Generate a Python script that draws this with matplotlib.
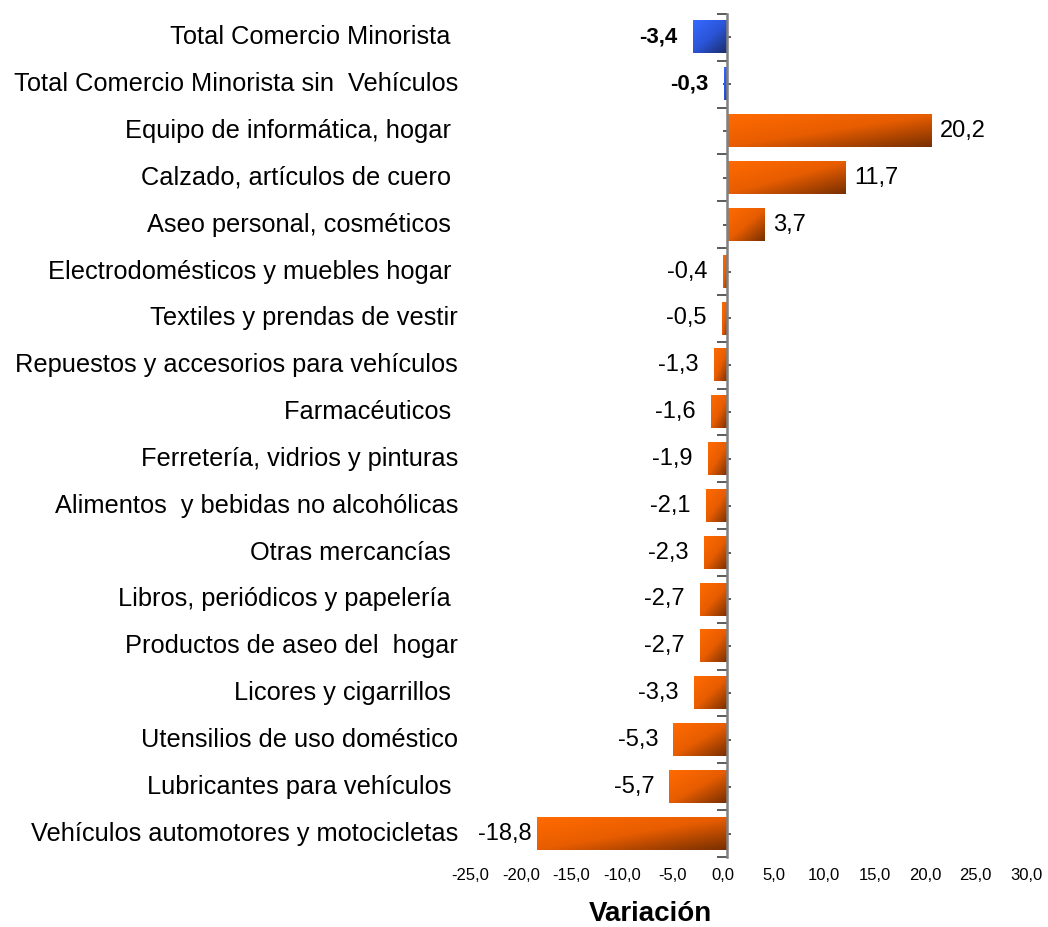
import numpy as np
import matplotlib
matplotlib.use('Agg')
import matplotlib.pyplot as plt
from matplotlib.colors import LinearSegmentedColormap
from matplotlib.transforms import blended_transform_factory, ScaledTranslation

plt.rcParams['font.family'] = ['Liberation Sans', 'DejaVu Sans']

# Datos (de arriba hacia abajo)
categorias = [
    'Total Comercio Minorista ',
    'Total Comercio Minorista sin  Vehículos',
    'Equipo de informática, hogar ',
    'Calzado, artículos de cuero ',
    'Aseo personal, cosméticos ',
    'Electrodomésticos y muebles hogar ',
    'Textiles y prendas de vestir',
    'Repuestos y accesorios para vehículos',
    'Farmacéuticos ',
    'Ferretería, vidrios y pinturas',
    'Alimentos  y bebidas no alcohólicas',
    'Otras mercancías ',
    'Libros, periódicos y papelería ',
    'Productos de aseo del  hogar',
    'Licores y cigarrillos ',
    'Utensilios de uso doméstico',
    'Lubricantes para vehículos ',
    'Vehículos automotores y motocicletas',
]
variacion = [-3.4, -0.3, 20.2, 11.7, 3.7, -0.4, -0.5, -1.3, -1.6, -1.9,
             -2.1, -2.3, -2.7, -2.7, -3.3, -5.3, -5.7, -18.8]
es_total = [True, True] + [False] * 16

xticks = [-25, -20, -15, -10, -5, 0, 5, 10, 15, 20, 25, 30]

cmap_naranja = LinearSegmentedColormap.from_list('nar', ['#ff6a00', '#e85d00', '#7a3000'])
cmap_azul = LinearSegmentedColormap.from_list('azu', ['#3569ff', '#2b55d8', '#1a2c6a'])

fig = plt.figure(figsize=(10.48, 9.27), dpi=100)
# eje x: 0 en x=727 px, 10.1 px por unidad
ax = fig.add_axes([474.5 / 1048, 0.0755, 555.5 / 1048, 0.9095])

n = len(categorias)
alto = 0.69
# gradiente diagonal (arriba-izquierda claro, abajo-derecha oscuro)
gx, gy = np.meshgrid(np.linspace(0, 1, 60), np.linspace(0, 1, 20))
grad = (gx + gy) / 2.0

for i, (cat, v, tot) in enumerate(zip(categorias, variacion, es_total)):
    y = i
    x0, x1 = min(0, v), max(0, v)
    cm = cmap_azul if tot else cmap_naranja
    ax.imshow(grad, cmap=cm, extent=(x0, x1, y + alto / 2, y - alto / 2),
              aspect='auto', interpolation='bilinear', zorder=2, origin='upper')
    etiqueta = f'{v:.1f}'.replace('.', ',')
    if v >= 0:
        ax.annotate(etiqueta, (v, y), xytext=(6.5, 0), textcoords='offset points',
                    ha='left', va='center', fontsize=17, zorder=3)
    else:
        dx = -11 if v > -10 else -4
        ax.annotate(etiqueta, (v, y), xytext=(dx, 0), textcoords='offset points',
                    ha='right', va='center', fontsize=16 if tot else 17,
                    fontweight='bold' if tot else 'normal', zorder=3)

# etiquetas de categorías a la izquierda (borde derecho en x=457 px)
trans = blended_transform_factory(fig.transFigure, ax.transData)
for i, cat in enumerate(categorias):
    ax.text(458 / 1048, i, cat, transform=trans, ha='right', va='center', fontsize=18.3)

ax.set_xlim(-25, 30)
ax.set_ylim(n - 0.5, -0.5)

ax.set_xticks(xticks)
ax.set_xticklabels([f'{t:.1f}'.replace('.', ',') for t in xticks], fontsize=12)
ax.tick_params(axis='x', length=0, pad=8)
desplaza = ScaledTranslation(-4 / 100, 0, fig.dpi_scale_trans)
for lbl in ax.get_xticklabels():
    lbl.set_transform(lbl.get_transform() + desplaza)

# eje vertical en x = 0
for s in ['top', 'right', 'bottom']:
    ax.spines[s].set_visible(False)
ax.spines['left'].set_position(('data', 0))
ax.spines['left'].set_color('#808080')
ax.spines['left'].set_linewidth(1.8)
ax.spines['left'].set_zorder(4)
ax.set_yticks(np.arange(-0.5, n, 1))
ax.set_yticklabels([])
ax.tick_params(axis='y', which='major', direction='out', length=7, width=1.2, color='#404040')
ax.set_yticks(np.arange(n), minor=True)
ax.tick_params(axis='y', which='minor', direction='inout', length=6, width=1.2, color='#404040')

ax.set_xlabel('Variación', fontsize=20, fontweight='bold')
ax.xaxis.label.set_verticalalignment('center')
ax.xaxis.set_label_coords((650 - 474.5) / 555.5, -(914 - 857) / 843)

fig.savefig('out.png', dpi=100)
